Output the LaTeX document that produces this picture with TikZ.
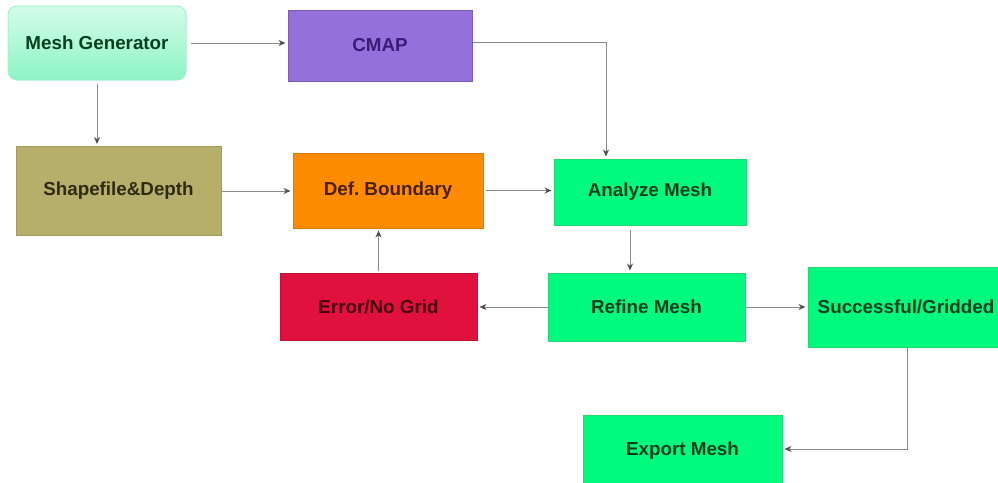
\documentclass[tikz,border=0pt]{standalone}
\usepackage{fontspec}
\setmainfont{Liberation Sans}
\usetikzlibrary{arrows.meta,shadings}
\definecolor{mgtop}{HTML}{D4FCEA}
\definecolor{mgbot}{HTML}{8CF4C4}
\definecolor{mgline}{HTML}{A6EFCB}
\definecolor{cmapfill}{HTML}{9370DB}
\definecolor{cmapline}{HTML}{7A5CB8}
\definecolor{cmaptext}{HTML}{3A1C78}
\definecolor{shpfill}{HTML}{B6AE6B}
\definecolor{shpline}{HTML}{A39B5C}
\definecolor{shptext}{HTML}{2E2B10}
\definecolor{dbfill}{HTML}{FF8C00}
\definecolor{dbline}{HTML}{E07A00}
\definecolor{dbtext}{HTML}{4A1E00}
\definecolor{gfill}{HTML}{00FA7E}
\definecolor{gline}{HTML}{22D872}
\definecolor{gtext}{HTML}{0A3F1E}
\definecolor{errfill}{HTML}{E0113C}
\definecolor{errline}{HTML}{C41033}
\definecolor{errtext}{HTML}{4A0010}
\definecolor{conn}{HTML}{8A8A8A}
\definecolor{tipc}{HTML}{505050}
\tikzset{
  box/.style={draw, line width=1pt, inner sep=0pt, font=\fontsize{18.8}{21}\selectfont\bfseries, align=center},
  greenbox/.style={box, fill=gfill, draw=gline, text=gtext},
  conn/.style={draw=conn, line width=1pt, -{Stealth[length=7pt,width=6pt,color=tipc]}, shorten >=2pt},
}
\begin{document}
\frenchspacing
\begin{tikzpicture}[x=1pt,y=-1pt]
\useasboundingbox[fill=white] (0,0) rectangle (998,482);
\begin{scope}
\clip (0,0) rectangle (998,482);
\node[box, rounded corners=9pt, top color=mgtop, bottom color=mgbot, draw=mgline, text=gtext, minimum width=178pt, minimum height=74pt] (mg) at (97,43) {Mesh Generator};
\node[box, fill=cmapfill, draw=cmapline, text=cmaptext, minimum width=184pt, minimum height=71pt] (cmap) at (380,45.5) {CMAP};
\node[box, fill=shpfill, draw=shpline, text=shptext, minimum width=205pt, minimum height=89pt] (shp) at (118.5,191) {Shapefile\&Depth};
\node[box, fill=dbfill, draw=dbline, text=dbtext, minimum width=190pt, minimum height=75pt] (db) at (388,190.5) {Def.\ Boundary};
\node[greenbox, minimum width=192pt, minimum height=66pt] (am) at (650,192) {Analyze Mesh};
\node[box, fill=errfill, draw=errline, text=errtext, minimum width=197pt, minimum height=67pt] (err) at (378.5,306.5) {Error/No Grid};
\node[greenbox, minimum width=197pt, minimum height=68pt] (rm) at (646.5,307) {Refine Mesh};
\node[greenbox, minimum width=196pt, minimum height=80pt] (sg) at (906,307) {Successful/Gridded};
\node[greenbox, minimum width=199pt, minimum height=72pt] (em) at (682.5,451) {Export Mesh};
\end{scope}
\coordinate (c1) at (606,42);
\coordinate (c2) at (630,0);
\coordinate (c3) at (907,449);
\draw[conn, shorten <=4pt] (mg.east) -- (mg.east -| cmap.west);
\draw[conn, shorten <=3pt] (mg.south) -- (mg.south |- shp.north);
\draw[conn] (cmap.east |- c1) -- (c1) -- (c1 |- am.north);
\draw[conn] (shp.east) -- (shp.east -| db.west);
\draw[conn, shorten <=2pt] (db.east) -- (db.east -| am.west);
\draw[conn, shorten <=4pt] (c2 |- am.south) -- (c2 |- rm.north);
\draw[conn] (rm.west) -- (rm.west -| err.east);
\draw[conn, shorten <=2pt] (err.north) -- (err.north |- db.south);
\draw[conn] (rm.east) -- (rm.east -| sg.west);
\draw[conn] (c3 |- sg.south) -- (c3) -- (em.east |- c3);
\end{tikzpicture}
\end{document}
